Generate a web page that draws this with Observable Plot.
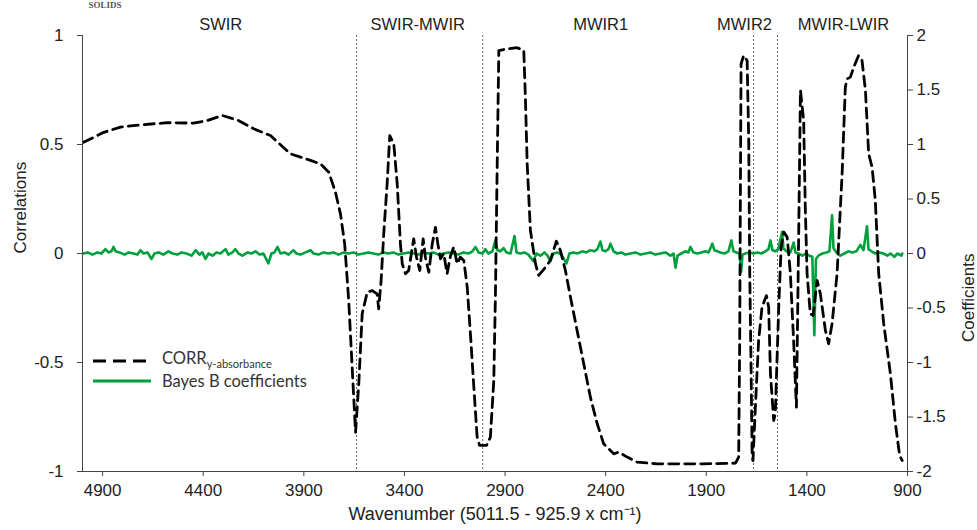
<!DOCTYPE html>
<html><head><meta charset="utf-8">
<script src="https://cdn.jsdelivr.net/npm/d3@7"></script>
<script src="https://cdn.jsdelivr.net/npm/@observablehq/plot@0.6"></script>
<style>
body{margin:0;background:#fff;}
#wrap{position:relative;width:977px;height:530px;overflow:hidden;}
#legend{position:absolute;left:93px;top:351px;font-family:Lato,"Open Sans",sans-serif;font-size:16.5px;color:#333;line-height:20px;}
#legend .row{display:flex;align-items:center;height:20px;}
#legend svg{margin-right:11px;}
#legend sub{font-size:11px;vertical-align:-4px;}
</style></head><body><div id="wrap"></div>
<script>
// CORR y-absorbance (left axis)
const corrWn = [4995,4894,4811,4712,4579,4448,4380,4306,4231,4149,4066,3966,3867,3817,3776,3743,3718,3697,3677,3660,3643,3627,3610,3585,3560,3536,3528,3516,3503,3486,3473,3453,3436,3420,3411,3395,3379,3354,3340,3324,3307,3296,3279,3262,3246,3234,3221,3205,3188,3171,3155,3138,3122,3105,3088,3072,3056,3039,3027,2992,2973,2956,2948,2939,2931,2890,2840,2807,2799,2790,2774,2749,2733,2699,2675,2645,2625,2600,2575,2542,2509,2476,2442,2410,2360,2335,2293,2244,2144,1913,1755,1739,1734,1730,1727,1714,1697,1689,1684,1677,1672,1668,1656,1640,1623,1601,1590,1581,1565,1557,1540,1528,1515,1498,1482,1466,1452,1442,1432,1416,1408,1399,1383,1369,1349,1333,1308,1292,1275,1250,1225,1209,1200,1184,1167,1143,1126,1109,1093,1076,1068,1060,1043,1018,985,960,939,926];
const corrR = [0.51,0.556,0.58,0.59,0.60,0.598,0.61,0.633,0.613,0.572,0.541,0.457,0.427,0.411,0.373,0.281,0.182,0.044,-0.216,-0.52,-0.82,-0.598,-0.277,-0.177,-0.17,-0.185,-0.254,-0.124,0.09,0.32,0.541,0.503,0.32,0.044,-0.047,-0.093,-0.078,0.067,-0.017,-0.078,0.067,-0.017,-0.086,0.044,0.12,0.044,-0.024,0,-0.093,-0.01,0.03,-0.047,-0.017,-0.032,-0.155,-0.37,-0.6,-0.84,-0.88,-0.88,-0.843,-0.583,-0.2,0.41,0.931,0.939,0.944,0.931,0.717,0.41,0.106,-0.047,-0.1,-0.063,-0.032,0.056,0.014,-0.078,-0.2,-0.353,-0.506,-0.659,-0.781,-0.873,-0.919,-0.911,-0.934,-0.957,-0.965,-0.965,-0.962,-0.934,-0.4,0.366,0.87,0.908,0.885,0.518,-0.093,-0.552,-0.934,-0.95,-0.705,-0.4,-0.246,-0.193,-0.246,-0.552,-0.766,-0.735,-0.246,0.029,0.098,0.075,-0.093,-0.4,-0.705,0.0,0.748,0.61,0.212,-0.093,-0.277,-0.284,-0.124,-0.185,-0.353,-0.414,-0.323,-0.093,0.366,0.763,0.801,0.809,0.855,0.908,0.885,0.748,0.457,0.396,0.32,0.243,-0.093,-0.323,-0.552,-0.781,-0.927,-0.95];

// Bayes B coefficients (right axis)
const coefWn = [4995,4975,4950,4925,4906,4886,4871,4856,4846,4836,4816,4791,4771,4747,4727,4712,4697,4677,4657,4642,4622,4598,4573,4553,4528,4508,4483,4458,4438,4419,4404,4389,4374,4354,4334,4314,4289,4275,4255,4240,4225,4205,4180,4160,4140,4120,4101,4076,4061,4046,4031,4016,3996,3976,3952,3937,3917,3892,3867,3852,3827,3802,3778,3753,3728,3703,3678,3653,3629,3604,3579,3554,3529,3504,3479,3455,3430,3405,3380,3355,3330,3306,3281,3256,3231,3206,3181,3157,3132,3107,3082,3062,3047,3032,3012,2998,2983,2963,2948,2938,2923,2908,2893,2873,2853,2843,2824,2804,2784,2759,2744,2724,2704,2689,2675,2660,2640,2620,2595,2580,2560,2540,2516,2496,2476,2456,2441,2426,2416,2401,2386,2376,2361,2342,2322,2302,2277,2252,2227,2202,2178,2153,2128,2103,2078,2063,2053,2043,2024,2004,1989,1979,1964,1944,1924,1904,1889,1879,1870,1860,1845,1830,1810,1790,1775,1765,1750,1735,1727,1720,1706,1686,1666,1646,1626,1606,1591,1581,1571,1557,1542,1523,1517,1502,1482,1466,1457,1442,1422,1407,1388,1373,1363,1355,1343,1323,1303,1288,1275,1268,1253,1234,1214,1194,1174,1154,1134,1119,1101,1094,1079,1060,1040,1020,1000,985,965,950,930,926];
const coefB = [0.00,0.01,-0.01,0.01,0.00,0.04,0.01,0.02,0.06,0.02,0.01,-0.01,0.01,0.00,-0.01,0.03,0.00,0.01,-0.05,0.00,0.01,-0.01,0.02,0.00,-0.01,0.01,0.00,-0.02,0.03,-0.01,0.01,-0.05,0.00,-0.02,0.01,0.00,0.04,-0.01,0.01,0.04,0.00,-0.02,0.01,0.00,0.02,-0.01,0.00,-0.09,0.00,0.01,0.06,0.00,0.01,-0.01,0.03,0.00,-0.01,0.01,0.03,0.00,-0.01,0.01,0.00,0.01,-0.01,0.01,0.00,0.01,-0.01,0.00,0.01,0.00,-0.01,0.01,0.00,0.01,-0.01,0.00,0.01,0.00,-0.01,0.01,0.00,0.01,-0.01,0.00,0.01,0.00,-0.01,0.01,0.00,0.02,0.06,0.01,0.00,0.04,0.00,0.02,0.12,0.03,0.02,0.05,0.01,0.00,0.16,0.01,0.00,0.01,-0.01,-0.07,0.00,-0.02,0.01,-0.02,-0.07,0.00,0.01,-0.01,-0.09,0.00,0.01,0.00,0.02,0.01,0.03,0.02,0.04,0.11,0.03,0.02,0.04,0.09,0.02,0.00,0.01,-0.01,0.00,0.01,-0.01,0.00,0.01,-0.01,0.00,0.01,-0.02,0.00,-0.13,-0.02,0.00,0.02,0.01,0.06,0.01,0.00,0.01,0.02,0.01,0.05,0.09,0.03,0.02,0.01,0.00,0.02,0.12,0.02,0.01,0.00,-0.17,-0.01,0.00,0.01,0.00,0.01,0.00,0.02,0.04,0.12,0.03,0.02,0.04,0.20,0.05,0.02,0.01,0.10,0.01,0.00,-0.02,0.00,-0.02,-0.03,-0.75,-0.05,-0.02,0.00,0.01,0.02,0.35,0.05,0.01,-0.02,0.00,0.02,0.01,0.02,0.08,0.03,0.25,0.04,0.02,0.00,0.01,0.00,-0.02,0.00,-0.03,0.00,-0.02,0.00];

const xDomain = [5000, 900];
const xTicks = [4900,4400,3900,3400,2900,2400,1900,1400,900];
const yTicks = [-1,-0.5,0,0.5,1];
const coefTicks = [-2,-1.5,-1,-0.5,0,0.5,1,1.5,2];
const regionNames = ["SWIR","SWIR-MWIR","MWIR1","MWIR2","MWIR-LWIR"];
const regionCenters = [4313,3334,2425,1710,1218];
const regionBounds = [3638,3011,1665,1546];

const corr = corrWn.map((wn,i)=>({wn, r: corrR[i]}));
const coef = coefWn.map((wn,i)=>({wn, b: coefB[i]}));
const regions = regionNames.map((name,i)=>({name, wn: regionCenters[i]}));

const plot = Plot.plot({
  width: 977, height: 530,
  marginTop: 35, marginBottom: 59, marginLeft: 82, marginRight: 70,
  x: {domain: xDomain},
  y: {domain: [-1, 1]},
  style: {fontFamily: "'Liberation Sans', Arial, sans-serif", fontSize: "17px", color: "#222", background: "white"},
  marks: [
    Plot.ruleX(regionBounds, {stroke: "#666", strokeDasharray: "2,2", strokeWidth: 1}),
    Plot.line(coef, {x: "wn", y: d => d.b / 2, stroke: "#00a03c", strokeWidth: 2.6}),
    Plot.line(corr, {x: "wn", y: "r", stroke: "#000", strokeWidth: 2.8, strokeDasharray: "10,6"}),
    Plot.ruleX(xDomain, {stroke: "#444"}),
    Plot.ruleY([-1], {stroke: "#444"}),
    Plot.axisX(xTicks, {tickSize: 5, tickPadding: 7, label: null, tickFormat: d => String(d), stroke: "#444"}),
    Plot.axisY(yTicks, {anchor: "left", tickSize: 5, tickPadding: 14, label: null, tickFormat: d => String(d), stroke: "#444"}),
    Plot.axisY(coefTicks.map(v => v / 2), {anchor: "right", tickSize: 5, tickPadding: 4, label: null, tickFormat: v => String(v * 2), stroke: "#444"}),
    Plot.text(regions, {x: "wn", text: "name", frameAnchor: "top", dy: -17, fontSize: 16.5}),
    Plot.text(["Correlations"], {frameAnchor: "left", dx: -62, rotate: -90}),
    Plot.text(["Coefficients"], {frameAnchor: "right", dx: 61, rotate: -90}),
    Plot.text(["Wavenumber (5011.5 - 925.9 x cm\u207B\u00B9)"], {frameAnchor: "bottom", dy: 48, fontSize: 18}),
    Plot.text(["SOLIDS"], {frameAnchor: "top-left", dx: 6, dy: -30, lineAnchor: "middle", textAnchor: "start", fontFamily: "'Liberation Serif', serif", fontSize: 9, fontWeight: "bold", fill: "#555", letterSpacing: "2px"})
  ]
});
const wrap = document.getElementById("wrap");
wrap.appendChild(plot);
const legend = document.createElement("div");
legend.id = "legend";
legend.innerHTML = `
<div class="row"><svg width="58" height="10"><line x1="0" y1="5" x2="58" y2="5" stroke="#000" stroke-width="3" stroke-dasharray="13,7"/></svg><span>CORR<sub>y-absorbance</sub></span></div>
<div class="row"><svg width="58" height="10"><line x1="0" y1="5" x2="58" y2="5" stroke="#00a03c" stroke-width="3"/></svg><span>Bayes B coefficients</span></div>`;
wrap.appendChild(legend);
</script>
</body></html>
